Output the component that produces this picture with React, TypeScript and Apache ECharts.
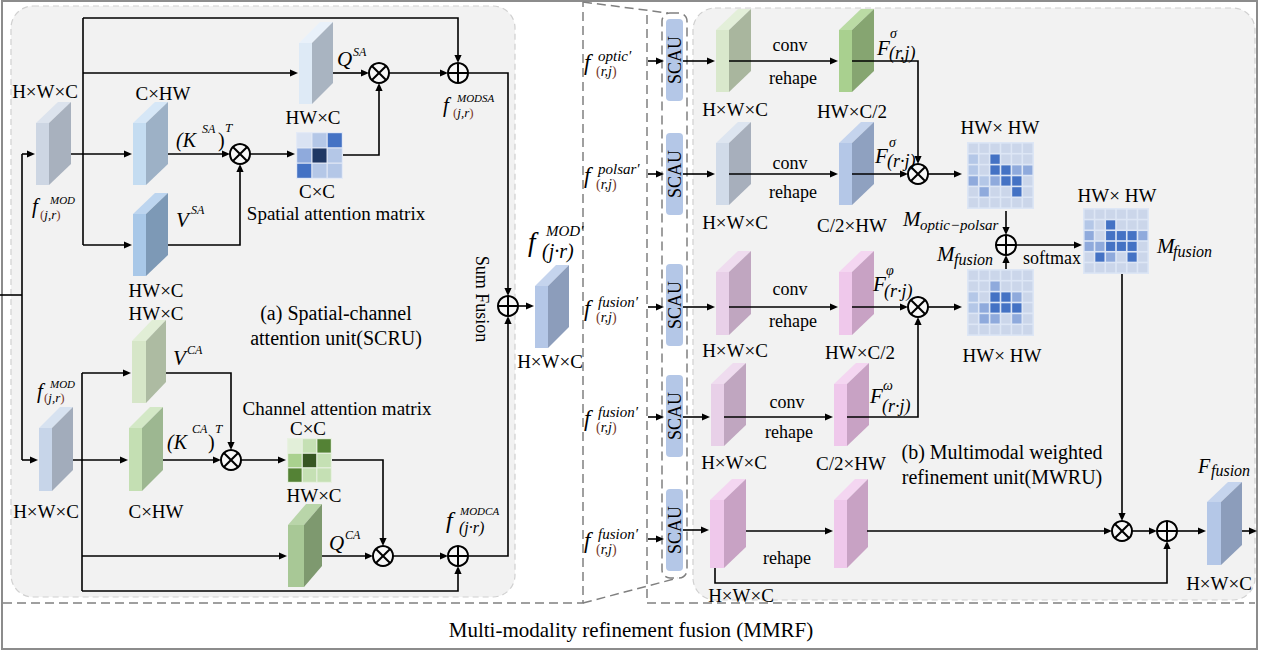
import React, { useEffect, useRef } from 'react';
import * as echarts from 'echarts';

// ---------------- data ----------------
const dimLabels = ['H×W×C', 'C×HW', 'HW×C', 'C×C', 'HW×C/2', 'C/2×HW', 'HW× HW'];
const opWords = ['conv', 'rehape', 'softmax'];
const titleLines = ['(a) Spatial-channel', 'attention unit(SCRU)', '(b) Multimodal weighted', 'refinement unit(MWRU)'];
const caption = 'Multi-modality refinement fusion (MMRF)';
const sideWords = ['Sum Fusion', 'SCAU', 'Spatial attention matrix', 'Channel attention matrix'];
const scauInputs = ['optic′', 'polsar′', 'fusion′', 'fusion′', 'fusion′'];
const scauSub = ['(r,j)', '(r,j)', '(r,j)', '(r,j)', '(r,j)'];

// attention matrices (palette index per cell)
const matSA = [[0, 1, 3], [2, 4, 1], [3, 1, 1]];
const matCA = [[0, 1, 3], [2, 4, 1], [3, 1, 1]];
const matOpticPolsar = [
  [0, 0, 0, 0, 0, 0],
  [1, 0, 3, 0, 0, 0],
  [1, 0, 3, 3, 2, 2],
  [2, 1, 2, 3, 3, 0],
  [0, 2, 0, 0, 3, 0],
  [0, 0, 0, 0, 0, 0],
];
const matFusionOut = [
  [0, 0, 0, 0, 0, 0],
  [1, 0, 3, 0, 0, 0],
  [2, 0, 3, 3, 3, 2],
  [2, 2, 3, 3, 3, 0],
  [0, 3, 2, 0, 3, 0],
  [0, 0, 0, 0, 0, 0],
];
const matFusionIn = [
  [0, 0, 0, 0, 0, 0],
  [0, 0, 2, 0, 0, 0],
  [1, 0, 3, 3, 2, 0],
  [1, 2, 3, 3, 3, 0],
  [0, 2, 2, 0, 2, 0],
  [0, 0, 0, 0, 0, 0],
];

// ---------------- styles ----------------
const SERIF = '"Liberation Serif", "Times New Roman", serif';
const INK = '#000';
const palSA = ['#dae3f3', '#b4c7e7', '#8faadc', '#4472c4', '#203864'];
const palCA = ['#e2efd9', '#c5e0b4', '#a9d18e', '#548235', '#375623'];
const pal6 = ['#cbd6ea', '#b4c7e7', '#8faadc', '#4472c4'];

const C = {
  gray: ['#cdd6e3', '#a8b1be', '#dce3ed'],
  gray2: ['#c7d5e9', '#a2acbb', '#d7e2f0'],
  kBlue: ['#c4dcf1', '#9db1c6', '#d6e7f7'],
  vBlue: ['#a9c8e8', '#7d99b6', '#bdd5ef'],
  qBlue: ['#deeaf6', '#a9b4c1', '#e9f1fa'],
  out: ['#b4c7e7', '#8c9dbb', '#c5d4ed'],
  vGreen: ['#d6e6c8', '#adbba2', '#e1eed6'],
  kGreen: ['#c4dfb3', '#9db791', '#d3e8c6'],
  qGreen: ['#a8c896', '#7e996f', '#b9d5a9'],
  lgreen: ['#d9e8cc', '#a9b69e', '#e3efd9'],
  green: ['#a9d08f', '#86a571', '#badba4'],
  lblue: ['#d1dbe9', '#a7afbc', '#dde5f0'],
  blue: ['#b4c7e7', '#8fa1c0', '#c5d4ed'],
  lpink: ['#e8d0e8', '#c0a6c0', '#efdcef'],
  pink: ['#efc8eb', '#c8a2c4', '#f4d6f1'],
};

type El = any;

function txt(x: number, y: number, text: string, size = 19, o: any = {}): El {
  const align = o.align || 'center';
  return {
    type: 'text', x, y, rotation: o.rotation || 0, silent: true, z: 10,
    style: {
      text, fill: o.color || INK, fontSize: size, fontFamily: SERIF,
      fontStyle: o.italic ? 'italic' : 'normal',
      align, textAlign: align, verticalAlign: 'middle', textVerticalAlign: 'middle',
      rich: o.rich,
    },
  };
}

function subEl(x: number, y: number, s: string, size: number, brown: boolean): El {
  if (!brown) return txt(x, y, s, size, { italic: true, align: 'left' });
  const inner = s.slice(1, -1);
  const rich = {
    p: { fill: '#7a3b2e', fontStyle: 'normal', fontSize: size, fontFamily: SERIF },
    t: { fill: INK, fontStyle: 'italic', fontSize: size, fontFamily: SERIF },
  };
  return txt(x, y, '{p|(}{t|' + inner + '}{p|)}', size, { align: 'left', rich });
}

function math(m: any): El[] {
  const els: El[] = [txt(m.x, m.y, m.b, m.size || 21, { italic: true, align: 'left' })];
  if (m.sup) els.push(txt(m.sx, m.sy, m.sup, m.ss || 12, { italic: true, align: 'left' }));
  if (m.sub) els.push(subEl(m.bx, m.by, m.sub, m.bs || 13, !!m.brown));
  return els;
}

function path(pts: number[][], head = true): El[] {
  const p = pts.map((q) => [q[0], q[1]]);
  const els: El[] = [];
  if (head) {
    const n = p.length;
    const [x1, y1] = p[n - 2];
    const [x2, y2] = p[n - 1];
    const a = Math.atan2(y2 - y1, x2 - x1);
    const L = 8, W = 3.6;
    const bx = x2 - L * Math.cos(a), by = y2 - L * Math.sin(a);
    const nx = -Math.sin(a) * W, ny = Math.cos(a) * W;
    els.push({ type: 'polygon', silent: true, z: 6, shape: { points: [[x2, y2], [bx + nx, by + ny], [bx - nx, by - ny]] }, style: { fill: INK } });
    p[n - 1] = [x2 - (L - 2) * Math.cos(a), y2 - (L - 2) * Math.sin(a)];
  }
  els.unshift({ type: 'polyline', silent: true, z: 5, shape: { points: p }, style: { stroke: INK, lineWidth: 1.6, fill: 'none' } });
  return els;
}

function dline(pts: number[][]): El {
  return { type: 'polyline', silent: true, z: 2, shape: { points: pts }, style: { stroke: '#808080', lineWidth: 1.5, fill: 'none', lineDash: [9, 5] } };
}

function op(cx: number, cy: number, kind: 'x' | '+'): El[] {
  const r = 10, d = r * Math.SQRT1_2;
  const els: El[] = [{ type: 'circle', silent: true, z: 7, shape: { cx, cy, r }, style: { fill: '#f8f8f8', stroke: INK, lineWidth: 2 } }];
  const segs = kind === 'x'
    ? [[cx - d, cy - d, cx + d, cy + d], [cx - d, cy + d, cx + d, cy - d]]
    : [[cx - r, cy, cx + r, cy], [cx, cy - r, cx, cy + r]];
  segs.forEach((s) => els.push({ type: 'line', silent: true, z: 8, shape: { x1: s[0], y1: s[1], x2: s[2], y2: s[3] }, style: { stroke: INK, lineWidth: 2 } }));
  return els;
}

function block(x: number, y: number, w: number, h: number, dx: number, dy: number, c: string[]): El[] {
  return [
    { type: 'polygon', silent: true, z: 3, shape: { points: [[x, y], [x + w, y], [x + w + dx, y - dy], [x + dx, y - dy]] }, style: { fill: c[2] } },
    { type: 'polygon', silent: true, z: 3, shape: { points: [[x + w, y], [x + w + dx, y - dy], [x + w + dx, y + h - dy], [x + w, y + h]] }, style: { fill: c[1] } },
    { type: 'rect', silent: true, z: 3, shape: { x, y, width: w, height: h }, style: { fill: c[0] } },
  ];
}

function matrix(x: number, y: number, size: number, grid: number[][], pal: string[], bg: string, gap: number): El[] {
  const n = grid.length;
  const cell = (size - gap * (n + 1)) / n;
  const els: El[] = [{ type: 'rect', silent: true, z: 3, shape: { x, y, width: size, height: size }, style: { fill: bg } }];
  grid.forEach((row, i) => row.forEach((v, j) => {
    els.push({ type: 'rect', silent: true, z: 4, shape: { x: x + gap + j * (cell + gap), y: y + gap + i * (cell + gap), width: cell, height: cell }, style: { fill: pal[v] } });
  }));
  return els;
}

function box(x: number, y: number, w: number, h: number): El {
  return { type: 'rect', silent: true, z: 1, shape: { x, y, width: w, height: h, r: 22 }, style: { fill: '#f2f2f2', stroke: '#d0d0d0', lineWidth: 1.2, lineDash: [6, 4] } };
}

function buildElements(): El[] {
  const E: El[] = [];
  const add = (x: El | El[]) => { if (Array.isArray(x)) E.push(...x); else E.push(x); };

  // frame and panels
  add({ type: 'rect', silent: true, z: 0, shape: { x: 2, y: 1, width: 1255, height: 648 }, style: { fill: '#fff', stroke: '#8c8c8c', lineWidth: 2 } });
  add(box(11, 6, 504, 591));
  add(box(693, 8, 562, 592));
  add(dline([[3, 603], [583, 603], [583, 2]]));
  add(dline([[583, 2], [668, 13]]));
  add(dline([[583, 603], [678, 578]]));
  add(dline([[647, 15], [647, 603], [1255, 603]]));
  add({ type: 'rect', silent: true, z: 2, shape: { x: 662, y: 13, width: 25, height: 565, r: 8 }, style: { fill: 'none', stroke: '#808080', lineWidth: 1.5, lineDash: [9, 5] } });

  // ---------- SCRU ----------
  add(block(36, 123, 13, 62, 22, 21, C.gray));
  add(block(133, 123, 13, 62, 22, 21, C.kBlue));
  add(block(133, 214, 13, 62, 22, 21, C.vBlue));
  add(block(299, 43, 13, 61, 21, 21, C.qBlue));
  add(block(535, 286, 13, 62, 21, 21, C.out));
  add(block(39, 428, 13, 63, 21, 21, C.gray2));
  add(block(132, 341, 14, 62, 20, 21, C.vGreen));
  add(block(129, 428, 13, 63, 21, 21, C.kGreen));
  add(block(288, 525, 16, 62, 18, 21, C.qGreen));
  add(matrix(296, 132, 47, matSA, palSA, '#e4eaf6', 1.2));
  add(matrix(287, 438, 45, matCA, palCA, '#e8f1e2', 1.2));

  add(path([[0, 295], [22, 295]], false));
  add(path([[22, 154], [22, 460]], false));
  add(path([[22, 154], [35, 154]]));
  add(path([[22, 460], [38, 460]]));
  add(path([[71, 154], [132, 154]]));
  add(path([[83, 18], [83, 245]], false));
  add(path([[83, 18], [458, 18], [458, 63]]));
  add(path([[83, 73], [298, 73]]));
  add(path([[83, 245], [132, 245]]));
  add(path([[168, 154], [230, 154]]));
  add(path([[250, 154], [295, 154]]));
  add(path([[168, 245], [240, 245], [240, 164]]));
  add(path([[333, 73], [369, 73]]));
  add(path([[343, 155], [379, 155], [379, 83]]));
  add(path([[389, 73], [448, 73]]));
  add(path([[468, 73], [508, 73], [508, 296]]));
  add(path([[518, 306], [534, 306]]));
  add(path([[73, 460], [128, 460]]));
  add(path([[82, 373], [82, 591]], false));
  add(path([[82, 373], [131, 373]]));
  add(path([[82, 556], [287, 556]]));
  add(path([[82, 591], [458, 591], [458, 566]]));
  add(path([[166, 373], [231, 373], [231, 450]]));
  add(path([[163, 460], [221, 460]]));
  add(path([[241, 460], [286, 460]]));
  add(path([[332, 460], [383, 460], [383, 546]]));
  add(path([[322, 556], [373, 556]]));
  add(path([[393, 556], [448, 556]]));
  add(path([[468, 556], [508, 556], [508, 316]]));
  add(op(240, 154, 'x'));
  add(op(379, 73, 'x'));
  add(op(458, 73, '+'));
  add(op(508, 306, '+'));
  add(op(231, 460, 'x'));
  add(op(383, 556, 'x'));
  add(op(458, 556, '+'));

  add(txt(45, 91, dimLabels[0]));
  add(txt(163, 93, dimLabels[1]));
  add(txt(156, 290, dimLabels[2]));
  add(txt(313, 117, dimLabels[2]));
  add(txt(317, 191, dimLabels[3]));
  add(txt(336, 213, sideWords[2]));
  add(txt(156, 313, dimLabels[2]));
  add(txt(336, 313, titleLines[0], 20));
  add(txt(336, 338, titleLines[1], 20));
  add(txt(337, 408, sideWords[3]));
  add(txt(308, 428, dimLabels[3]));
  add(txt(46, 511, dimLabels[0]));
  add(txt(156, 511, dimLabels[1]));
  add(txt(314, 495, dimLabels[2]));
  add(txt(550, 361, dimLabels[0]));
  add(txt(482, 299, sideWords[0], 18, { rotation: -Math.PI / 2 }));

  add(math({ x: 32, y: 206, b: 'f', size: 21, sup: 'MOD', sx: 50, sy: 200, ss: 11, sub: '(j,r)', bx: 40, by: 214, bs: 13, brown: true }));
  add(math({ x: 37, y: 391, b: 'f', size: 21, sup: 'MOD', sx: 50, sy: 384, ss: 11, sub: '(j,r)', bx: 44, by: 397, bs: 13, brown: true }));
  add(math({ x: 443, y: 105, b: 'f', size: 21, sup: 'MODSA', sx: 457, sy: 98, ss: 11, sub: '(j,r)', bx: 453, by: 112, bs: 13, brown: true }));
  add(math({ x: 528, y: 242, b: 'f', size: 27, sup: 'MOD′', sx: 546, sy: 231, ss: 15, sub: '(j·r)', bx: 542, by: 251, bs: 20 }));
  add(math({ x: 446, y: 520, b: 'f', size: 24, sup: 'MODCA', sx: 460, sy: 511, ss: 11, sub: '(j·r)', bx: 459, by: 527, bs: 16 }));
  // (K^SA)^T
  add(txt(176, 140, '(K', 20, { italic: true, align: 'left' }));
  add(txt(202, 129, 'SA', 12, { italic: true, align: 'left' }));
  add(txt(218, 140, ')', 20, { align: 'left' }));
  add(txt(225, 127, 'T', 13, { italic: true, align: 'left' }));
  add(math({ x: 176, y: 220, b: 'V', size: 21, sup: 'SA', sx: 191, sy: 210, ss: 12 }));
  add(math({ x: 337, y: 59, b: 'Q', size: 21, sup: 'SA', sx: 353, sy: 52, ss: 12 }));
  add(math({ x: 173, y: 358, b: 'V', size: 21, sup: 'CA', sx: 187, sy: 350, ss: 12 }));
  // (K^CA)^T
  add(txt(167, 442, '(K', 20, { italic: true, align: 'left' }));
  add(txt(192, 429, 'CA', 12, { italic: true, align: 'left' }));
  add(txt(208, 442, ')', 20, { align: 'left' }));
  add(txt(215, 428, 'T', 13, { italic: true, align: 'left' }));
  add(math({ x: 329, y: 543, b: 'Q', size: 21, sup: 'CA', sx: 345, sy: 535, ss: 12 }));

  // ---------- MMRF / MWRU ----------
  const scauY = [[19, 101], [133, 215], [264, 346], [375, 457], [489, 571]];
  const inY = [61, 174, 307, 417, 539];
  const outY = [61, 174, 307, 417, 530];
  const outX = [715, 715, 715, 710, 709];
  scauY.forEach(([a, b], i) => {
    add({ type: 'rect', silent: true, z: 3, shape: { x: 666, y: a, width: 17, height: b - a, r: 4 }, style: { fill: '#b4c7e7' } });
    add(txt(674.5, (a + b) / 2, sideWords[1], 18, { rotation: Math.PI / 2 }));
    add(path([[648, inY[i]], [664, inY[i]]]));
    add(path([[683, outY[i]], [outX[i], outY[i]]]));
    const y = inY[i];
    add(math({ x: 584, y: y + 1, b: 'f', size: 23, sup: scauInputs[i], sx: 598, sy: y - 5, ss: 15, sub: scauSub[i], bx: 596, by: y + 10, bs: 14, brown: true }));
  });

  add(block(716, 30, 13, 62, 22, 21, C.lgreen));
  add(block(839, 30, 13, 62, 22, 21, C.green));
  add(block(716, 143, 13, 62, 22, 21, C.lblue));
  add(block(839, 143, 13, 62, 22, 21, C.blue));
  add(block(716, 272, 13, 63, 22, 21, C.lpink));
  add(block(839, 272, 13, 63, 22, 21, C.pink));
  add(block(711, 384, 13, 62, 22, 21, C.lpink));
  add(block(834, 384, 13, 62, 22, 21, C.pink));
  add(block(710, 500, 14, 68, 22, 21, C.pink));
  add(block(834, 500, 13, 68, 21, 21, C.pink));
  add(block(1207, 502, 14, 63, 21, 20, C.out));
  add(matrix(967, 142, 67, matOpticPolsar, pal6, '#dde6f5', 1.6));
  add(matrix(1083, 208, 66, matFusionOut, pal6, '#dde6f5', 1.6));
  add(matrix(967, 269, 67, matFusionIn, pal6, '#dde6f5', 1.6));

  add(path([[729, 61], [838, 61]]));
  add(path([[852, 61], [918, 61], [918, 164]]));
  add(path([[729, 174], [838, 174]]));
  add(path([[852, 174], [908, 174]]));
  add(path([[928, 174], [962, 174]]));
  add(path([[1006, 211], [1006, 235]]));
  add(path([[1016, 245], [1082, 245]]));
  add(path([[1006, 269], [1006, 255]]));
  add(path([[729, 307], [838, 307]]));
  add(path([[852, 307], [908, 307]]));
  add(path([[928, 307], [962, 307]]));
  add(path([[724, 417], [833, 417]]));
  add(path([[847, 417], [918, 417], [918, 317]]));
  add(path([[746, 531], [833, 531]]));
  add(path([[867, 531], [1112, 531]]));
  add(path([[1122, 274], [1122, 521]]));
  add(path([[1132, 531], [1157, 531]]));
  add(path([[1177, 531], [1206, 531]]));
  add(path([[1242, 531], [1257, 531]]));
  add(path([[715, 568], [715, 583], [1167, 583], [1167, 541]]));
  add(op(918, 174, 'x'));
  add(op(1006, 245, '+'));
  add(op(918, 307, 'x'));
  add(op(1122, 531, 'x'));
  add(op(1167, 531, '+'));

  add(txt(735, 109, dimLabels[0]));
  add(txt(790, 45, opWords[0], 18));
  add(txt(793, 78, opWords[1], 18));
  add(txt(852, 111, dimLabels[4]));
  add(txt(735, 222, dimLabels[0]));
  add(txt(790, 163, opWords[0], 18));
  add(txt(793, 192, opWords[1], 18));
  add(txt(852, 225, dimLabels[5]));
  add(txt(1000, 127, dimLabels[6]));
  add(txt(1052, 258, opWords[2], 18));
  add(txt(1117, 195, dimLabels[6]));
  add(txt(735, 350, dimLabels[0]));
  add(txt(790, 289, opWords[0], 18));
  add(txt(793, 321, opWords[1], 18));
  add(txt(860, 352, dimLabels[4]));
  add(txt(1002, 355, dimLabels[6]));
  add(txt(734, 462, dimLabels[0]));
  add(txt(787, 402, opWords[0], 18));
  add(txt(789, 432, opWords[1], 18));
  add(txt(851, 463, dimLabels[5]));
  add(txt(1002, 452, titleLines[2], 20));
  add(txt(1002, 477, titleLines[3], 20));
  add(txt(787, 558, opWords[1], 18));
  add(txt(741, 595, dimLabels[0]));
  add(txt(1219, 583, dimLabels[0]));
  add(txt(631, 630, caption, 21));

  add(math({ x: 877, y: 48, b: 'F', size: 21, sup: 'σ', sx: 890, sy: 33, ss: 14, sub: '(r,j)', bx: 889, by: 53, bs: 18 }));
  add(math({ x: 875, y: 156, b: 'F', size: 21, sup: 'σ', sx: 889, sy: 142, ss: 14, sub: '(r·j)', bx: 887, by: 161, bs: 18 }));
  add(math({ x: 873, y: 284, b: 'F', size: 21, sup: 'φ', sx: 886, sy: 270, ss: 14, sub: '(r·j)', bx: 884, by: 291, bs: 18 }));
  add(math({ x: 870, y: 396, b: 'F', size: 21, sup: 'ω', sx: 883, sy: 385, ss: 14, sub: '(r·j)', bx: 882, by: 406, bs: 18 }));
  add(math({ x: 903, y: 219, b: 'M', size: 21, sub: 'optic−polsar', bx: 920, by: 225, bs: 15 }));
  add(math({ x: 937, y: 254, b: 'M', size: 21, sub: 'fusion', bx: 954, by: 259, bs: 16 }));
  add(math({ x: 1157, y: 246, b: 'M', size: 21, sub: 'fusion', bx: 1173, by: 251, bs: 16 }));
  add(math({ x: 1198, y: 466, b: 'F', size: 20, sub: 'fusion', bx: 1211, by: 470, bs: 16 }));

  return E;
}

export default function App() {
  const ref = useRef<HTMLDivElement>(null);
  useEffect(() => {
    document.body.style.margin = '0';
    const chart = echarts.init(ref.current as HTMLDivElement, null, { renderer: 'svg' });
    chart.setOption({ animation: false, backgroundColor: '#fff', graphic: { elements: buildElements() } });
    return () => chart.dispose();
  }, []);
  return <div ref={ref} style={{ width: 1262, height: 651 }} />;
}
